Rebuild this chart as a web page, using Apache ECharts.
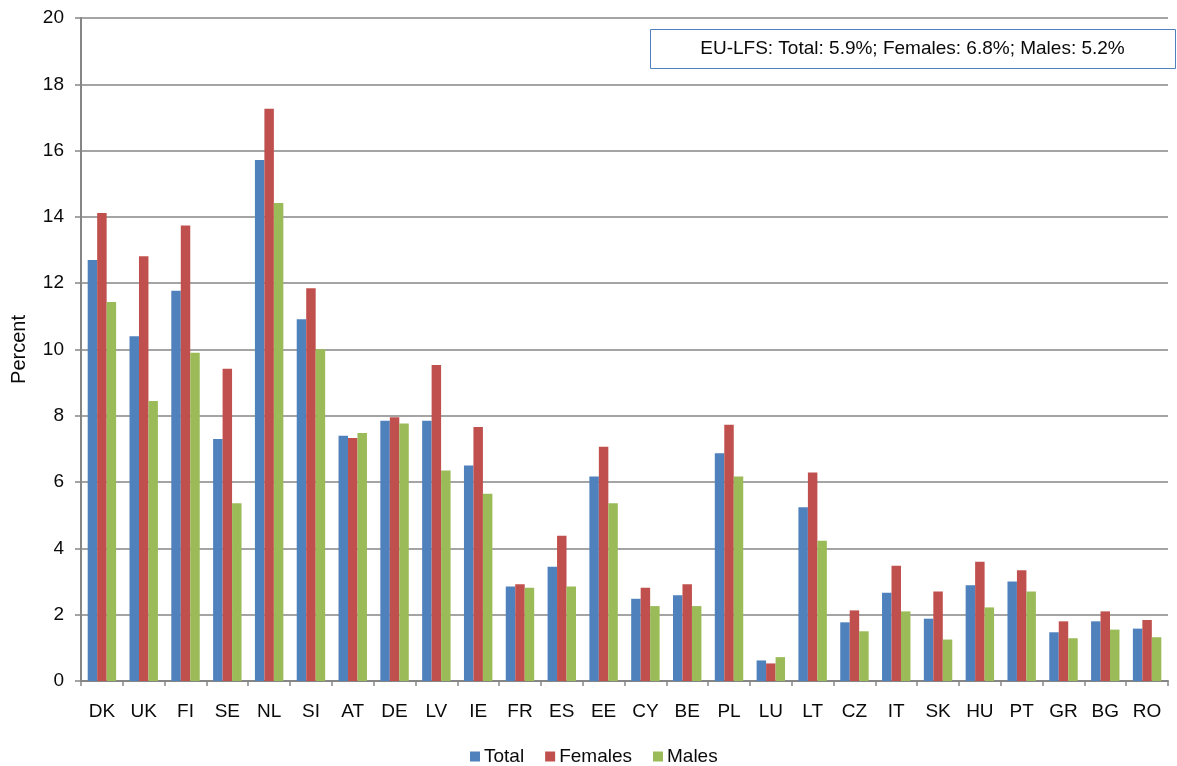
<!DOCTYPE html>
<html>
<head>
<meta charset="utf-8">
<script src="https://cdn.jsdelivr.net/npm/echarts@6/dist/echarts.min.js"></script>
<style>
  html, body { margin: 0; padding: 0; background: #fff; }
  #chart { width: 1177px; height: 766px; }
</style>
</head>
<body>
<div id="chart"></div>
<script>
// Countries, ordered as in the chart
const countries = ['DK','UK','FI','SE','NL','SI','AT','DE','LV','IE','FR','ES','EE','CY','BE','PL','LU','LT','CZ','IT','SK','HU','PT','GR','BG','RO'];

// Share in percent, by sex
const totalValues   = [12.70,10.40,11.77,7.30,15.72,10.91,7.40,7.85,7.85,6.50,2.85,3.45,6.17,2.48,2.59,6.87,0.62,5.24,1.77,2.66,1.88,2.89,3.00,1.47,1.80,1.58];
const femalesValues = [14.12,12.81,13.74,9.42,17.26,11.85,7.33,7.96,9.53,7.66,2.92,4.38,7.07,2.81,2.92,7.73,0.53,6.29,2.13,3.48,2.70,3.60,3.34,1.80,2.10,1.84];
const malesValues   = [11.43,8.45,9.90,5.36,14.42,10.01,7.48,7.77,6.35,5.65,2.81,2.85,5.36,2.26,2.26,6.17,0.72,4.23,1.50,2.10,1.25,2.22,2.70,1.29,1.55,1.32];

const seriesNames = ['Total', 'Females', 'Males'];
const yTicks = { min: 0, max: 20, step: 2 };
const noteText = 'EU-LFS: Total: 5.9%; Females: 6.8%; Males: 5.2%';

const font = '"Liberation Sans", Arial, sans-serif';
const axisGray = '#868686';
const textColor = '#0a0a0a';

const chart = echarts.init(document.getElementById('chart'), null, { renderer: 'canvas' });

chart.setOption({
  animation: false,
  color: ['#4F81BD', '#C0504D', '#9BBB59'],
  textStyle: { fontFamily: font },
  grid: { left: 81, right: 9, top: 18, bottom: 85, containLabel: false },
  legend: {
    data: seriesNames,
    top: 747,
    left: 470,
    padding: 0,
    icon: 'rect',
    itemWidth: 10,
    itemHeight: 10,
    itemGap: 21,
    textStyle: { fontSize: 19, color: textColor, fontFamily: font, padding: [0, 0, 0, -1] }
  },
  xAxis: {
    type: 'category',
    data: countries,
    axisLine: { lineStyle: { color: axisGray, width: 2 } },
    axisTick: { show: true, length: 5, lineStyle: { color: axisGray, width: 1.5 } },
    axisLabel: { color: textColor, fontSize: 19, margin: 21, fontFamily: font, interval: 0 }
  },
  yAxis: {
    type: 'value',
    min: yTicks.min,
    max: yTicks.max,
    interval: yTicks.step,
    name: 'Percent',
    nameLocation: 'middle',
    nameRotate: 90,
    nameGap: 52,
    nameTextStyle: { fontSize: 20, color: textColor, fontFamily: font },
    axisLine: { show: true, lineStyle: { color: axisGray, width: 2 } },
    axisTick: { show: true, length: 6, lineStyle: { color: axisGray, width: 1.5 } },
    axisLabel: { color: textColor, fontSize: 19, margin: 17, fontFamily: font },
    splitLine: { lineStyle: { color: axisGray, width: 1.5 } }
  },
  graphic: [{
    type: 'group',
    left: 650,
    top: 29,
    children: [
      {
        type: 'rect',
        shape: { x: 0, y: 0, width: 525, height: 39 },
        style: { fill: '#fff', stroke: '#4F81BD', lineWidth: 1 }
      },
      {
        type: 'text',
        x: 262,
        y: 19,
        style: {
          text: noteText,
          fill: textColor,
          font: '19px ' + font,
          textAlign: 'center',
          textVerticalAlign: 'middle'
        }
      }
    ]
  }],
  series: [
    { name: seriesNames[0], type: 'bar', data: totalValues,   barGap: '0%', barCategoryGap: '32%' },
    { name: seriesNames[1], type: 'bar', data: femalesValues, barGap: '0%', barCategoryGap: '32%' },
    { name: seriesNames[2], type: 'bar', data: malesValues,   barGap: '0%', barCategoryGap: '32%' }
  ]
});
</script>
</body>
</html>
